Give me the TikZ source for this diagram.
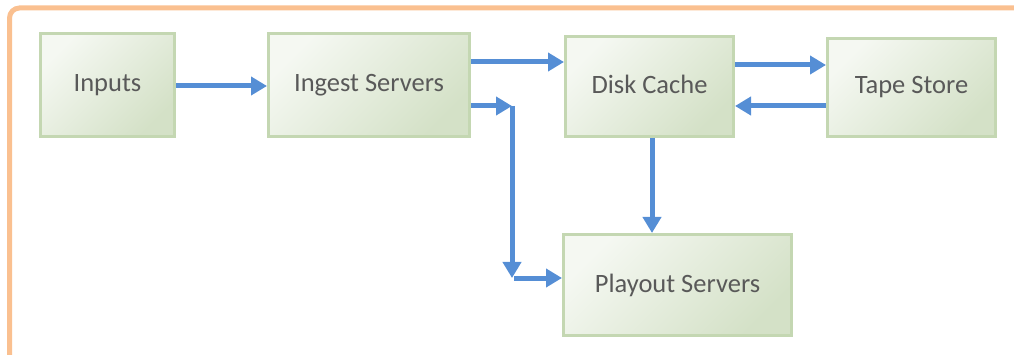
\documentclass[tikz,border=0pt]{standalone}
\usepackage{fontspec}
\setmainfont{Carlito}
\usetikzlibrary{arrows.meta,calc}
\definecolor{frameor}{RGB}{250,192,144}
\definecolor{boxline}{RGB}{196,215,178}
\definecolor{boxlight}{RGB}{245,248,242}
\definecolor{boxdark}{RGB}{212,225,199}
\definecolor{arrowblue}{RGB}{85,142,213}
\definecolor{txtgray}{RGB}{89,89,89}
\tikzset{
  procbox/.style={draw=boxline, line width=3pt, shading=axis, top color=boxlight, bottom color=boxdark, shading angle=45,
    text=txtgray, font=\fontsize{26.5pt}{30pt}\selectfont, inner sep=0pt, anchor=center},
  flow/.style={draw=arrowblue, line width=5pt, -{Triangle[length=16pt,width=18pt]}},
}
\begin{document}
\begin{tikzpicture}[x=1pt,y=-1pt]
\useasboundingbox (0,0) rectangle (1014,355);
\clip (0,0) rectangle (1014,355);
\draw[frameor, line width=5pt, rounded corners=10pt] (9.5,8) rectangle (1040,380);

\node[procbox, minimum width=134pt, minimum height=103pt] (inputs) at (107.5,85) {Inputs};
\node[procbox, minimum width=201pt, minimum height=103pt] (ingest) at (369,85) {Ingest Servers};
\node[procbox, minimum width=168pt, minimum height=100pt] (disk) at (649.5,86.5) {\raisebox{4pt}{Disk Cache}};
\node[procbox, minimum width=168pt, minimum height=98pt] (tape) at (911.5,87.5) {\raisebox{1.5pt}{Tape Store}};
\node[procbox, minimum width=228pt, minimum height=101pt] (playout) at (677.5,285) {\raisebox{1pt}{Playout Servers}};

\coordinate (j1) at (512,106);
\coordinate (j2) at (512,278);
\coordinate (j3) at (514,278);

\draw[flow] ([yshift=-1pt]inputs.east) -- ([yshift=-1pt]inputs.east -| ingest.west);
\draw[flow] ([yshift=23pt]ingest.east) -- ([yshift=23pt]ingest.east -| disk.west);
\draw[flow] ([yshift=-21pt]ingest.east) -- (j1);
\draw[flow] (j1) -- (j2);
\draw[flow] (j3) -- (j3 -| playout.west);
\draw[flow] ([xshift=2.5pt]disk.south) -- ([xshift=2.5pt]disk.south |- playout.north);
\draw[flow] ([yshift=21.5pt]disk.east) -- ([yshift=21.5pt]disk.east -| tape.west);
\draw[flow] ([yshift=-18.5pt]tape.west) -- ([yshift=-18.5pt]tape.west -| disk.east);
\end{tikzpicture}
\end{document}
